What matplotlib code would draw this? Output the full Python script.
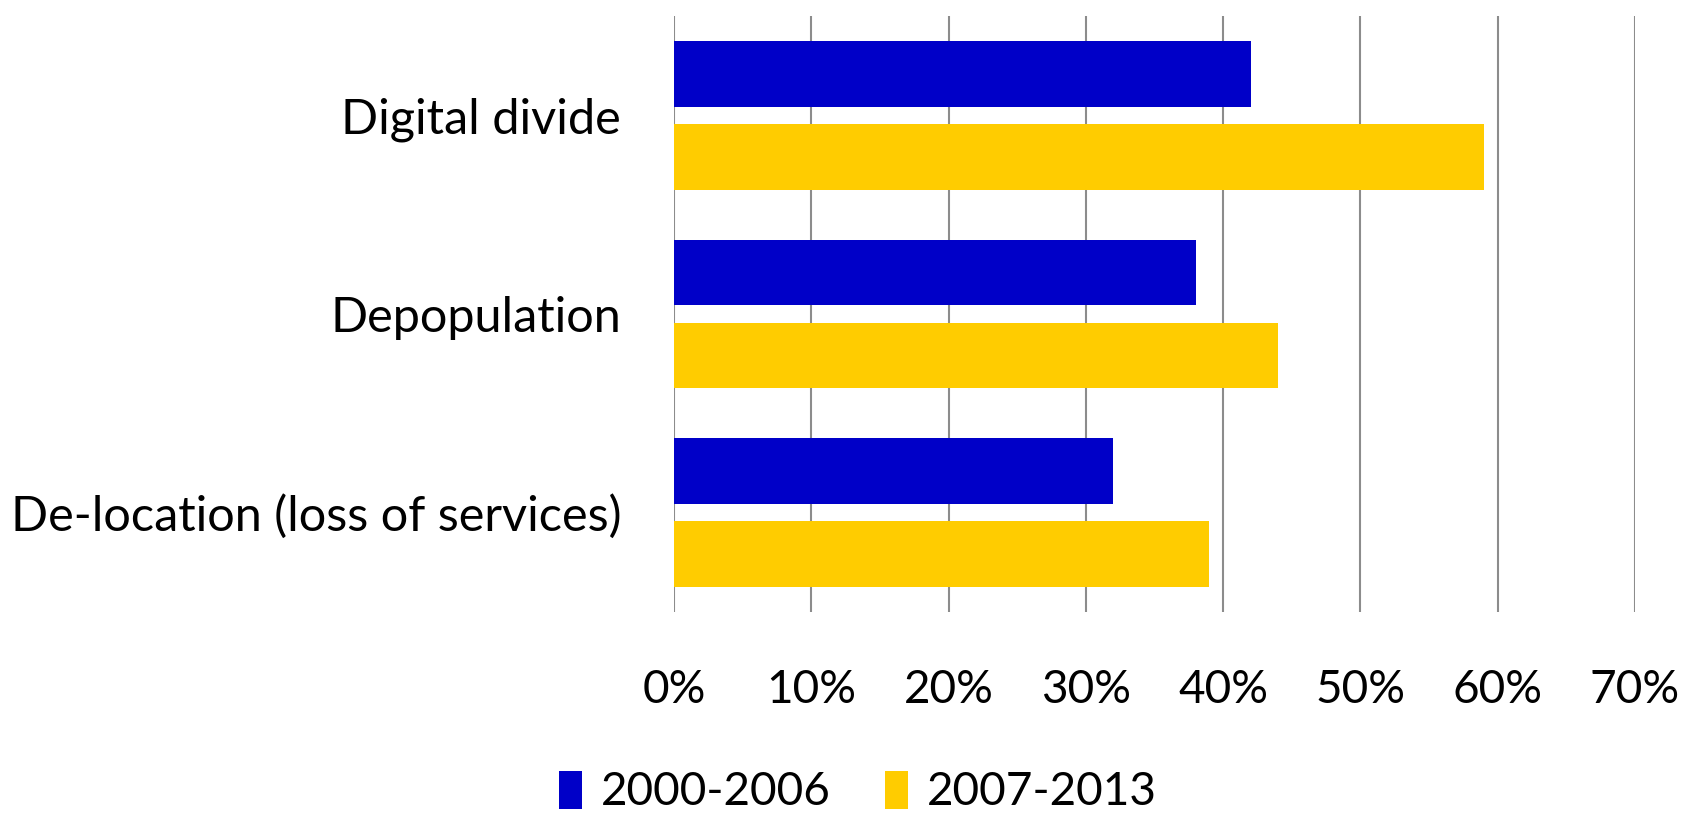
import matplotlib.pyplot as plt
import numpy as np

# data
categories = ['Digital divide', 'Depopulation', 'De-location (loss of services)']
p2000_2006 = [42, 38, 32]
p2007_2013 = [59, 44, 39]
series_labels = ['2000-2006', '2007-2013']
xticks = [0, 10, 20, 30, 40, 50, 60, 70]

plt.rcParams['font.family'] = ['Lato', 'DejaVu Sans']

fig = plt.figure(figsize=(16.83, 8.22), dpi=100)
ax = fig.add_axes([674/1683, 1 - 612/822, (1635 - 674)/1683, (612 - 16)/822])

y = np.arange(len(categories))
h = 0.33
off = 0.2085
b1 = ax.barh(y - off, p2000_2006, height=h, color='#0000C8', label=series_labels[0], zorder=3)
b2 = ax.barh(y + off, p2007_2013, height=h, color='#FFCC00', label=series_labels[1], zorder=3)

ax.set_xlim(0, 70)
ax.set_ylim(2.5, -0.5)
ax.set_xticks(xticks)
ax.set_xticklabels([f'{t}%' for t in xticks], fontsize=33)
ax.set_yticks(y)
ax.set_yticklabels(categories, fontsize=35)
ax.tick_params(axis='x', length=0, pad=41)
ax.tick_params(axis='y', length=0, pad=38)
ax.xaxis.grid(True, color='#8C8C8C', linewidth=1.5, zorder=0)
for s in ax.spines.values():
    s.set_visible(False)

fig.legend(handles=[b1, b2], labels=series_labels, loc='center',
           bbox_to_anchor=(858/1683, 1 - 792/822), ncol=2, frameon=False,
           fontsize=33, handlelength=0.5, handleheight=0.9, handletextpad=0.4,
           columnspacing=1.2, borderpad=0.1)

fig.savefig('out.png', dpi=100)
